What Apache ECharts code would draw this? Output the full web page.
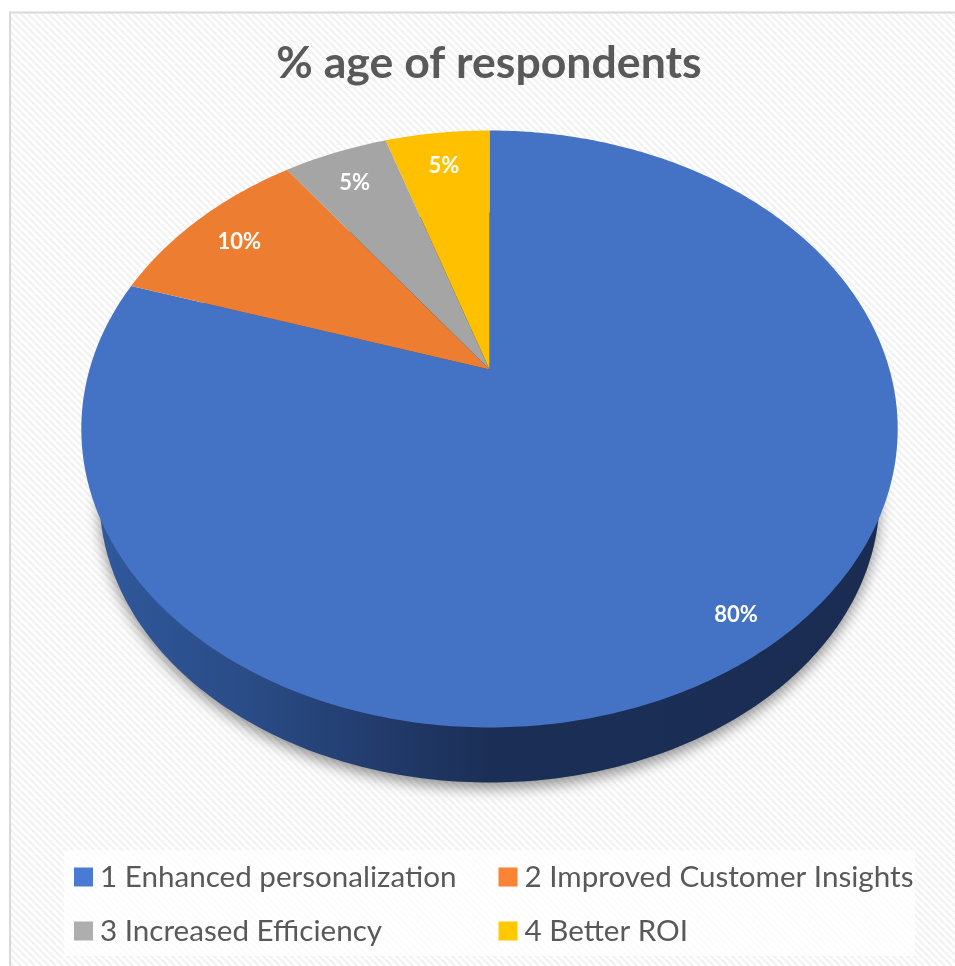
<!DOCTYPE html>
<html><head><meta charset="utf-8">
<style>html,body{margin:0;padding:0;background:#fff}#c{width:955px;height:966px}</style>
<script src="https://cdn.jsdelivr.net/npm/echarts@6/dist/echarts.min.js"></script>
</head><body><div id="c"></div>
<script>
const categories = ['1 Enhanced personalization','2 Improved Customer Insights','3 Increased Efficiency','4 Better ROI'];
const values = [80,10,5,5];
const colors = ['#4472C4','#ED7D31','#A5A5A5','#FFC000'];
const legendColors = ['#4A7BD4','#FB8335','#AEAEAE','#FFC800'];
const labelRadius = [0.897,0.85,0.855,0.85];

const total = values.reduce((a,b)=>a+b,0);
const cx=489.5, apexY=369.5, persp=0.1993, scaleY=286.6, scaleX=400;
function project(theta,r){
  const u=r*Math.sin(theta), v=r*Math.cos(theta), d=1+persp*v;
  return [cx+scaleX*u/d, apexY-scaleY*v/d];
}
function makeRender(idx){
  let startShare=0; for(let i=0;i<idx;i++) startShare+=values[i];
  return function(params,api){
    const share=api.value(0);
    const a0=startShare/total*2*Math.PI, a1=(startShare+share)/total*2*Math.PI;
    const pts=[[cx,apexY]], n=Math.max(12,Math.round(share*5));
    for(let i=0;i<=n;i++) pts.push(project(a0+(a1-a0)*i/n,1));
    const children=[];
    if(idx===0){
      const base=[], bx=390, by=285, bcy=497.5;
      for(let i=0;i<360;i++){const t=i/360*2*Math.PI; base.push([cx+bx*Math.sin(t),bcy-by*Math.cos(t)]);}
      children.push({type:'polygon',shape:{points:base},style:{
        fill:{type:'linear',x:99,y:0,x2:879,y2:0,global:true,colorStops:[
          {offset:0,color:'#30589B'},{offset:0.18,color:'#2A4D88'},{offset:0.36,color:'#223B6C'},{offset:0.5,color:'#1B2F56'},{offset:1,color:'#1A2C52'}]},
        shadowBlur:14,shadowColor:'rgba(0,0,0,0.42)',shadowOffsetX:0,shadowOffsetY:6}});
    }
    children.push({type:'polygon',shape:{points:pts},style:{fill:colors[idx]}});
    const lp=project((a0+a1)/2,labelRadius[idx]);
    children.push({type:'text',x:lp[0],y:lp[1]+2.5,style:{text:Math.round(share/total*100)+'%',fill:'#fff',
      font:'bold 22px Lato',align:'center',verticalAlign:'middle'}});
    return {type:'group',children};
  };
}
const hatch=document.createElement('canvas');hatch.width=7;hatch.height=7;
(function(){const g=hatch.getContext('2d');g.fillStyle='#fff';g.fillRect(0,0,7,7);g.strokeStyle='#F2F2F2';g.lineWidth=2.4;
  for(let k=-7;k<=14;k+=7){g.beginPath();g.moveTo(k,0);g.lineTo(k+7,7);g.stroke();}})();

const legendText={fontFamily:'Lato',fontSize:29.6,color:'#595959',padding:[0,0,0,2]};
const chart=echarts.init(document.getElementById('c'),null,{renderer:'canvas'});
chart.setOption({
  animation:false,
  title:{text:'% age of respondents',left:484,top:36,textAlign:'center',
    textStyle:{fontFamily:'Lato',fontWeight:'bold',fontSize:44.6,color:'#595959'}},
  graphic:[
    {type:'rect',z:-10,shape:{x:10,y:12.5,width:960,height:970},style:{fill:{image:hatch,repeat:'repeat'},stroke:'#D9D9D9',lineWidth:2}},
    {type:'rect',z:-9,shape:{x:64,y:850,width:851,height:106},style:{fill:'rgba(255,255,255,0.72)'}}
  ],
  legend:[
    {orient:'vertical',left:74,top:862,padding:0,itemWidth:19,itemHeight:19,itemGap:24,icon:'rect',selectedMode:false,
      textStyle:legendText,
      data:[0,2].map(i=>({name:categories[i],itemStyle:{color:legendColors[i]}}))},
    {orient:'vertical',left:498.5,top:862,padding:0,itemWidth:19,itemHeight:19,itemGap:24,icon:'rect',selectedMode:false,
      textStyle:legendText,
      data:[1,3].map(i=>({name:categories[i],itemStyle:{color:legendColors[i]}}))}
  ],
  series:categories.map((name,i)=>({
    type:'custom',name,coordinateSystem:'none',silent:true,
    itemStyle:{color:colors[i]},
    renderItem:makeRender(i),
    data:[[values[i]]]
  }))
});
</script></body></html>
